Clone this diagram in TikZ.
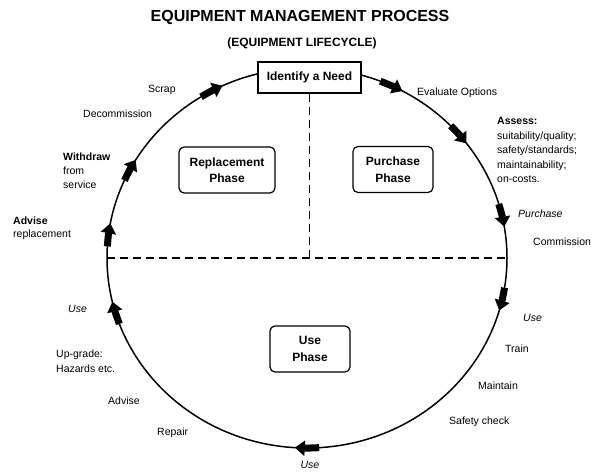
\documentclass[tikz,border=0pt]{standalone}
\usepackage{fontspec}
\setmainfont{Liberation Sans}
\usetikzlibrary{arrows.meta}

\begin{document}
\begin{tikzpicture}[
  x=1pt, y=1pt,
  eqmRing/.style = {line width=1.5pt},
  eqmFlow/.style = {line width=7pt, -{Triangle[length=10pt, width=15pt]}},
  eqmDiv/.style = {line width=1.4pt, dash pattern=on 8pt off 5pt},
  eqmBox/.style = {draw, line width=1.2pt, fill=white, align=center,
                   font=\bfseries\fontsize{12}{16.5}\selectfont},
  eqmPhase/.style = {eqmBox, rounded corners=5pt, minimum width=80pt, minimum height=46pt},
  eqmLbl/.style = {anchor=west, inner sep=0pt, align=left,
                   font=\fontsize{10.5}{14.5}\selectfont}
]
  \useasboundingbox (0,0) rectangle (600,472);
  % titles
  \node[font=\bfseries\fontsize{16}{18}\selectfont] (title) at (300,455) {EQUIPMENT MANAGEMENT PROCESS};
  \node[font=\bfseries\fontsize{12}{14}\selectfont] (subtitle) at (302,429) {(EQUIPMENT LIFECYCLE)};
  % ring
  \coordinate (ctr) at (307,214);
  \coordinate (ringW) at ([shift={(180:200 and 190)}]ctr);
  \coordinate (ringE) at ([shift={(0:200 and 190)}]ctr);
  \draw[eqmRing] (ctr) ellipse [x radius=200, y radius=190];
  % flow arrows, clockwise
  \foreach \a in {65,40.6,13,-12.5,-90,196.8,173,152.4,118.5} {
    \draw[eqmFlow] ([shift={({\a+3.5}:200 and 190)}]ctr)
      arc[start angle=\a+3.5, end angle=\a-3.5, x radius=200, y radius=190];
  }
  % phase boxes
  \node[eqmBox, minimum width=103pt, minimum height=31pt] (need) at (309.5,394.5) {Identify a Need};
  \draw[eqmDiv] (need.south) -- (need.south |- ctr);
  \draw[eqmDiv] (ringW) -- (ringE);
  \node[eqmPhase, minimum width=96pt] (replace) at (227,302) {Replacement\\Phase};
  \node[eqmPhase] (purchase) at (393,302.5) {Purchase\\Phase};
  \node[eqmPhase] (usephase) at (310,123) {Use\\Phase};
  % labels
  \node[eqmLbl] (scrap) at (148,382) {Scrap};
  \node[eqmLbl] (decomm) at (83,358) {Decommission};
  \node[eqmLbl, font=\fontsize{10.5}{14}\selectfont] (withdraw) at (63,301) {\textbf{Withdraw}\\from\\service};
  \node[eqmLbl, font=\fontsize{10.5}{13}\selectfont] (advrepl) at (13,243.5) {\textbf{Advise}\\replacement};
  \node[eqmLbl] (useW) at (68,163) {\textit{Use}};
  \node[eqmLbl, font=\fontsize{10.5}{15}\selectfont] (upgrade) at (56,110.5) {Up-grade:\\Hazards etc.};
  \node[eqmLbl] (advise) at (108,71) {Advise};
  \node[eqmLbl] (repair) at (157,39) {Repair};
  \node[eqmLbl, anchor=center] (useS) at (310,7) {\textit{Use}};
  \node[eqmLbl] (safety) at (449,50) {Safety check};
  \node[eqmLbl] (maintain) at (478,86) {Maintain};
  \node[eqmLbl] (train) at (505,123) {Train};
  \node[eqmLbl] (useE) at (523,154) {\textit{Use}};
  \node[eqmLbl] (commission) at (533,230) {Commission};
  \node[eqmLbl] (purchlbl) at (518,258) {\textit{Purchase}};
  \node[eqmLbl] (assess) at (497,322) {\textbf{Assess:}\\suitability/quality;\\safety/standards;\\maintainability;\\on-costs.};
  \node[eqmLbl] (evaluate) at (417,379) {Evaluate Options};
\end{tikzpicture}
\end{document}
